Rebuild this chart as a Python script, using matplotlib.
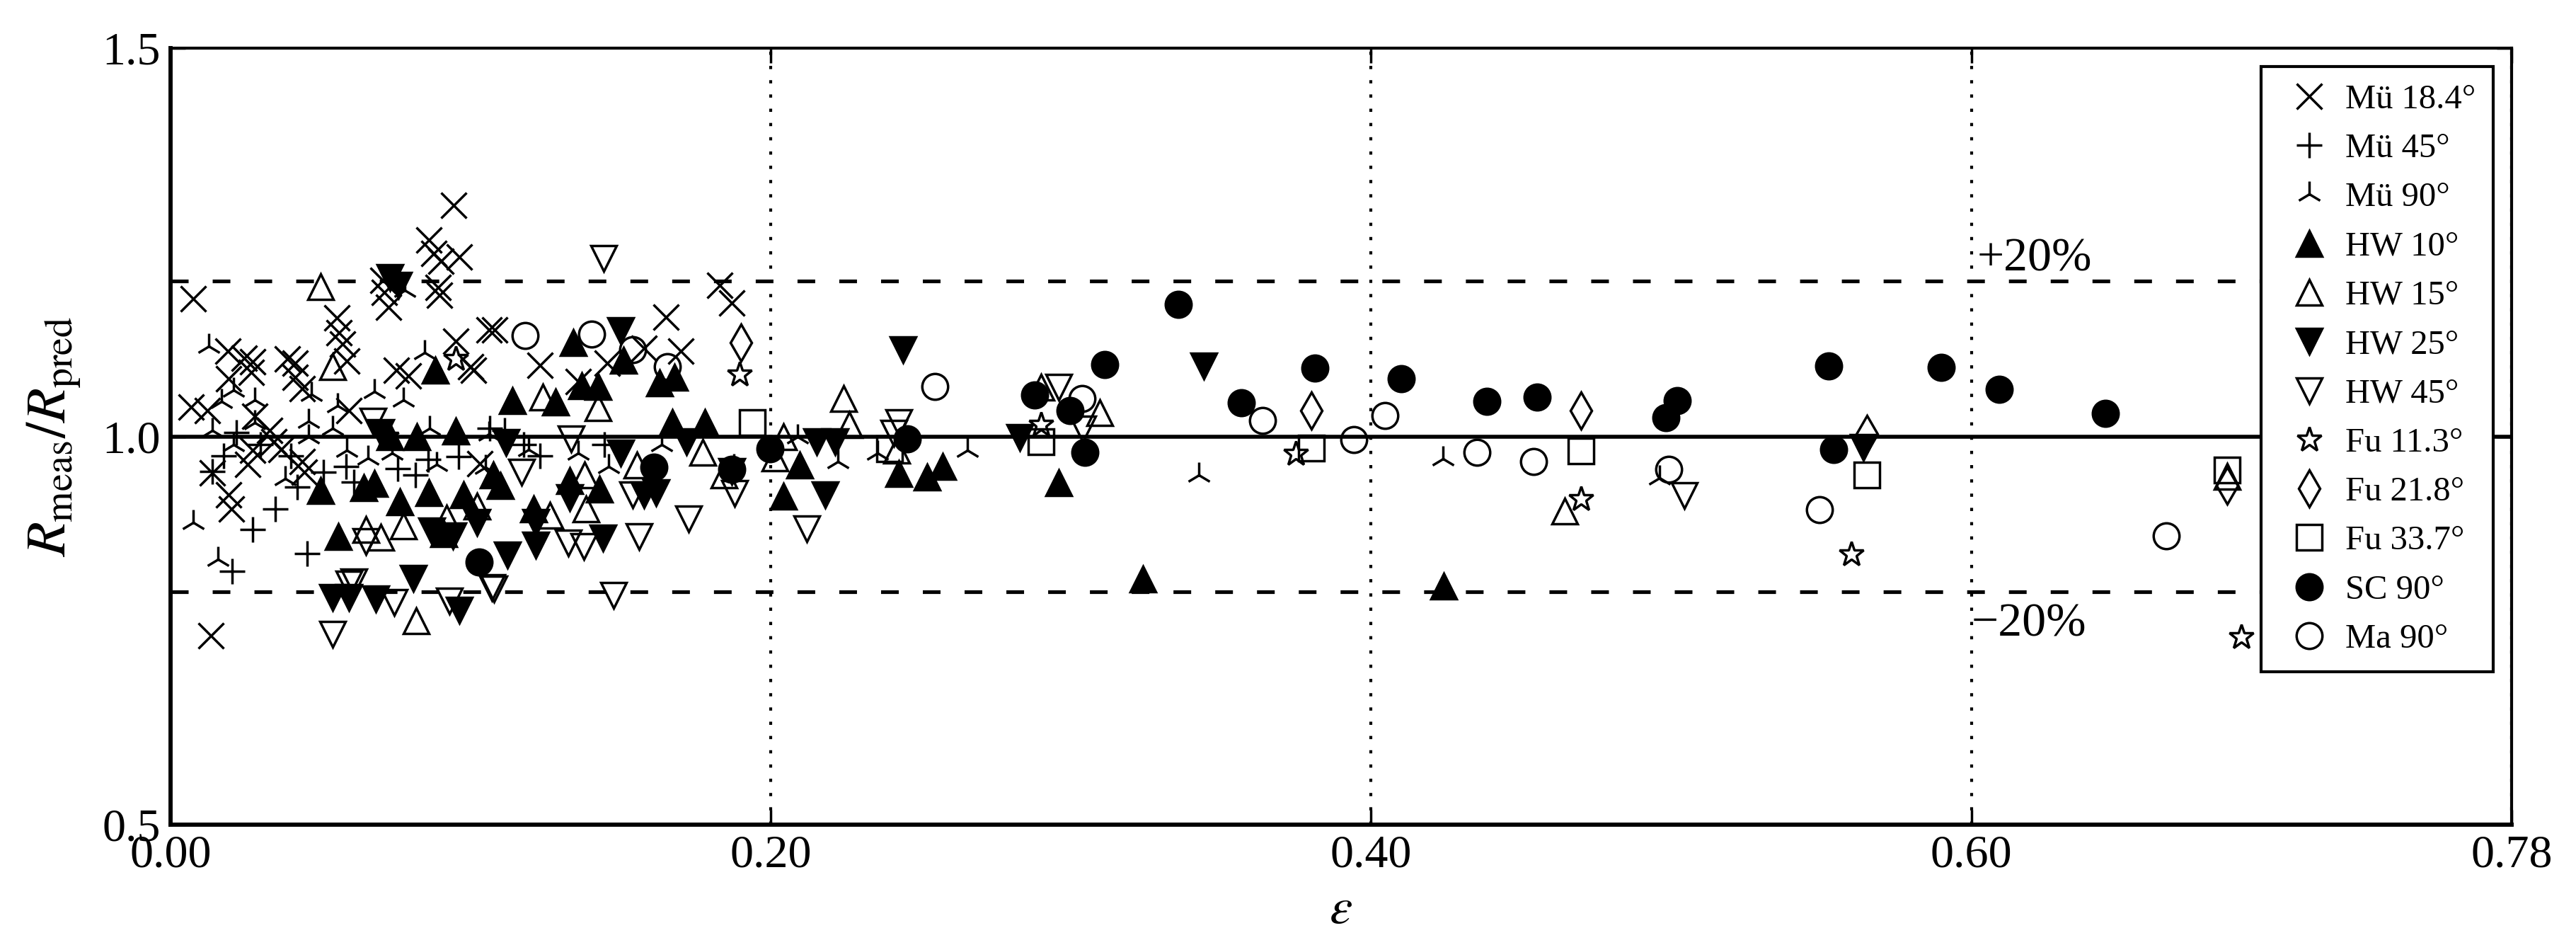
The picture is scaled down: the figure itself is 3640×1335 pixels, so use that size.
# Ratio of measured to predicted R against strain, several data sets
import matplotlib
matplotlib.use("Agg")
import matplotlib.pyplot as plt

plt.rcParams['font.family'] = ['Liberation Serif', 'DejaVu Serif']
plt.rcParams['mathtext.fontset'] = 'stix'
plt.rcParams['lines.scale_dashes'] = False

# Mü 18.4°
mu18_eps = [0.0943, 0.086, 0.0877, 0.090, 0.0962, 0.0076, 0.0708, 0.0713, 0.0727, 0.0892,
            0.0897, 0.0555, 0.0561, 0.0572, 0.0588, 0.019, 0.0245, 0.0273, 0.027, 0.0194,
            0.0414, 0.0414, 0.0438, 0.039, 0.0752, 0.0792, 0.095, 0.0068, 0.0123, 0.028,
            0.033, 0.0273, 0.0344, 0.0257, 0.0367, 0.0438, 0.0446, 0.0139, 0.0194, 0.0202,
            0.0595, 0.0134, 0.106, 0.108, 0.1232, 0.1456, 0.1578, 0.170, 0.165, 0.1358,
            0.183, 0.187, 0.100, 0.101, 0.103]
mu18_r = [1.298, 1.253, 1.236, 1.226, 1.231, 1.177, 1.201, 1.186, 1.166, 1.192,
          1.182, 1.153, 1.134, 1.119, 1.097, 1.110, 1.101, 1.096, 1.083, 1.074,
          1.094, 1.076, 1.062, 1.100, 1.085, 1.078, 1.123, 1.038, 1.033, 1.026,
          1.008, 0.982, 0.993, 0.964, 0.983, 0.968, 0.954, 0.953, 0.925, 0.907,
          1.033, 0.743, 1.137, 1.137, 1.092, 1.094, 1.114, 1.110, 1.154, 1.071,
          1.195, 1.172, 1.090, 1.085, 0.965]

# Mü 45°
mu45_eps = [0.0206, 0.0273, 0.0348, 0.0422, 0.0454, 0.0509, 0.0584, 0.061, 0.0756, 0.0815,
            0.0859, 0.096, 0.1063, 0.1114, 0.1177, 0.1232, 0.014, 0.022, 0.03, 0.04,
            0.0176, 0.1445]
mu45_r = [0.826, 0.880, 0.907, 0.935, 0.849, 0.954, 0.961, 0.941, 0.959, 0.950,
          0.970, 0.974, 1.011, 1.008, 0.990, 0.975, 0.955, 1.005, 0.990, 0.975,
          0.975, 0.990]

# Mü 90°
mu90_eps = [0.0127, 0.017, 0.021, 0.028, 0.028, 0.021, 0.0076, 0.0159, 0.0383, 0.0587,
            0.0658, 0.0737, 0.0886, 0.0863, 0.0776, 0.068, 0.0847, 0.0556, 0.047, 0.046,
            0.046, 0.054, 0.078, 0.1358, 0.146, 0.1637, 0.1877, 0.106, 0.1192, 0.105,
            0.209, 0.2223, 0.2655, 0.2356, 0.3425, 0.424, 0.496, 0.0139]
mu90_r = [1.116, 1.045, 1.060, 1.047, 1.018, 0.990, 0.889, 0.842, 0.946, 0.982,
          0.972, 0.979, 0.964, 1.011, 1.047, 1.058, 1.108, 1.040, 1.054, 1.020,
          1.000, 1.011, 1.188, 0.979, 0.961, 0.990, 0.961, 1.003, 0.983, 0.960,
          1.000, 0.968, 0.982, 0.979, 0.950, 0.971, 0.947, 1.008]

# HW 10°
hw10_eps = [0.0882, 0.082, 0.095, 0.073, 0.050, 0.0643, 0.068, 0.0764, 0.086, 0.0976,
            0.056, 0.091, 0.1342, 0.151, 0.1425, 0.137, 0.163, 0.168, 0.1138, 0.1283,
            0.1672, 0.178, 0.1075, 0.1098, 0.133, 0.121, 0.143, 0.2097, 0.2042, 0.2427,
            0.2521, 0.2572, 0.296, 0.324, 0.4242]
hw10_r = [1.085, 1.000, 1.007, 1.000, 0.930, 0.934, 0.939, 0.916, 0.928, 0.925,
          0.871, 0.875, 1.121, 1.098, 1.064, 1.065, 1.069, 1.076, 1.046, 1.044,
          1.018, 1.018, 0.950, 0.937, 0.943, 0.907, 0.932, 0.963, 0.923, 0.952,
          0.948, 0.961, 0.940, 0.816, 0.807]

# HW 15°
hw15_eps = [0.05, 0.054, 0.065, 0.07, 0.0775, 0.092, 0.0818, 0.124, 0.1425, 0.1774,
            0.138, 0.1385, 0.1263, 0.102, 0.1554, 0.1845, 0.2242, 0.2262, 0.2042, 0.2014,
            0.2419, 0.290, 0.3096, 0.4645, 0.6853]
hw15_r = [1.193, 1.090, 0.880, 0.870, 0.885, 0.895, 0.763, 1.051, 1.037, 0.980,
          0.950, 0.907, 0.898, 0.910, 0.963, 0.950, 1.049, 1.015, 1.000, 0.972,
          0.982, 1.063, 1.031, 0.904, 0.949]

# HW 25°
hw25_eps = [0.073, 0.076, 0.070, 0.087, 0.094, 0.054, 0.0595, 0.0685, 0.0808, 0.0961,
            0.150, 0.172, 0.1118, 0.150, 0.133, 0.1216, 0.1578, 0.1617, 0.144, 0.1216,
            0.1122, 0.187, 0.102, 0.2441, 0.2152, 0.2215, 0.283, 0.218, 0.3443, 0.564]
hw25_r = [1.205, 1.195, 1.005, 0.878, 0.872, 0.793, 0.793, 0.791, 0.817, 0.776,
          1.136, 0.993, 0.992, 0.979, 0.921, 0.889, 0.925, 0.928, 0.869, 0.860,
          0.847, 0.955, 0.889, 1.112, 0.993, 0.993, 0.999, 0.925, 1.091, 0.986]

# HW 45°
hw45_eps = [0.0674, 0.065, 0.0595, 0.0745, 0.0929, 0.107, 0.054, 0.1476, 0.061, 0.1443,
            0.1334, 0.117, 0.154, 0.1326, 0.1377, 0.156, 0.1727, 0.188, 0.1078, 0.2120,
            0.2427, 0.241, 0.296, 0.304, 0.5044]
hw45_r = [1.020, 0.865, 0.810, 0.786, 0.788, 0.805, 0.745, 0.795, 0.813, 1.229,
          0.997, 0.954, 0.925, 0.863, 0.858, 0.871, 0.894, 0.927, 0.804, 0.881,
          1.018, 1.004, 1.063, 1.010, 0.924]

# Fu 11.3°
fu11_eps = [0.095, 0.1896, 0.072, 0.290, 0.375, 0.470, 0.560, 0.690]
fu11_r = [1.100, 1.080, 1.000, 1.015, 0.978, 0.919, 0.848, 0.742]

# Fu 21.8°
fu21_eps = [0.190, 0.380, 0.470, 0.5653, 0.6853]
fu21_r = [1.121, 1.033, 1.033, 1.003, 0.937]

# Fu 33.7°
fu33_eps = [0.1939, 0.2395, 0.290, 0.380, 0.470, 0.5653, 0.6853]
fu33_r = [1.018, 0.984, 0.993, 0.985, 0.981, 0.950, 0.957]

# SC 90°
sc_eps = [0.1998, 0.2454, 0.161, 0.1028, 0.2878, 0.2996, 0.3047, 0.3112, 0.3358, 0.3567,
          0.3813, 0.410, 0.4385, 0.4554, 0.4982, 0.502, 0.5524, 0.5542, 0.590, 0.6094,
          0.6447, 0.187]
sc_r = [0.984, 0.997, 0.960, 0.838, 1.053, 1.033, 0.980, 1.093, 1.170, 1.043,
        1.088, 1.074, 1.045, 1.051, 1.024, 1.046, 1.091, 0.983, 1.089, 1.061,
        1.030, 0.958]

# Ma 90°
ma_eps = [0.1182, 0.1403, 0.1539, 0.1656, 0.2546, 0.3038, 0.3638, 0.3942, 0.4046, 0.4353,
          0.4542, 0.4991, 0.5495, 0.665]
ma_r = [1.130, 1.132, 1.112, 1.090, 1.064, 1.049, 1.021, 0.996, 1.027, 0.980,
        0.968, 0.958, 0.906, 0.872]

xticks = [0.0, 0.2, 0.4, 0.6, 0.78]
xticklabels = ['0.00', '0.20', '0.40', '0.60', '0.78']
yticks = [0.5, 1.0, 1.5]
yticklabels = ['0.5', '1.0', '1.5']

fig = plt.figure(figsize=(14.56, 5.34), dpi=250)
ax = fig.add_axes([0.0662, 0.1273, 0.9088, 0.8217])

# reference lines
ax.axhline(1.0, color='k', lw=1.6, zorder=1)
ax.axhline(1.2, color='k', lw=1.5, dashes=(7.2, 9.8), zorder=1)
ax.axhline(0.8, color='k', lw=1.5, dashes=(7.2, 9.8), zorder=1)
ax.xaxis.grid(True, color='k', lw=1.2, linestyle=(0, (1.3, 4.5)), zorder=1)
ax.set_axisbelow(True)

ms = 10.5
mew = 1.0
series = [
    (mu18_eps, mu18_r, 'x', 'k', u'M\u00fc 18.4\u00b0'),
    (mu45_eps, mu45_r, '+', 'k', u'M\u00fc 45\u00b0'),
    (mu90_eps, mu90_r, '2', 'k', u'M\u00fc 90\u00b0'),
    (hw10_eps, hw10_r, '^', 'k', u'HW 10\u00b0'),
    (hw15_eps, hw15_r, '^', 'none', u'HW 15\u00b0'),
    (hw25_eps, hw25_r, 'v', 'k', u'HW 25\u00b0'),
    (hw45_eps, hw45_r, 'v', 'none', u'HW 45\u00b0'),
    (fu11_eps, fu11_r, '*', 'none', u'Fu 11.3\u00b0'),
    (fu21_eps, fu21_r, 'd', 'none', u'Fu 21.8\u00b0'),
    (fu33_eps, fu33_r, 's', 'none', u'Fu 33.7\u00b0'),
    (sc_eps, sc_r, 'o', 'k', u'SC 90\u00b0'),
    (ma_eps, ma_r, 'o', 'none', u'Ma 90\u00b0'),
]
for xs, ys, mk, face, lab in series:
    ax.plot(xs, ys, linestyle='none', marker=mk, ms=ms, mew=mew,
            mec='k', mfc=face, color='k', label=lab, zorder=3)

ax.text(0.602, 1.213, '+20%', fontsize=19.5, ha='left', va='baseline')
ax.text(0.600, 0.743, u'\u221220%', fontsize=19.5, ha='left', va='baseline')

ax.set_xlim(0, 0.78)
ax.set_ylim(0.5, 1.5)
ax.set_xticks(xticks)
ax.set_xticklabels(xticklabels)
ax.set_yticks(yticks)
ax.set_yticklabels(yticklabels)
ax.tick_params(direction='in', length=6, width=1.0, top=True, right=True,
               labelsize=19, pad=4)

for side in ['left', 'bottom']:
    ax.spines[side].set_linewidth(1.7)
for side in ['top', 'right']:
    ax.spines[side].set_linewidth(1.2)

ax.set_xlabel(r'$\varepsilon$', fontsize=21, labelpad=4)
ax.set_ylabel(r'$R_{\rm meas}/R_{\rm pred}$', fontsize=23, labelpad=8)

leg = ax.legend(loc='upper right', bbox_to_anchor=(0.992, 0.976), borderaxespad=0,
                numpoints=1, fontsize=14, fancybox=False, framealpha=1,
                edgecolor='k', handlelength=1.8, handletextpad=0.15,
                labelspacing=0.52, borderpad=0.5)
leg.get_frame().set_linewidth(1.2)

fig.savefig('out.png', dpi=250)
